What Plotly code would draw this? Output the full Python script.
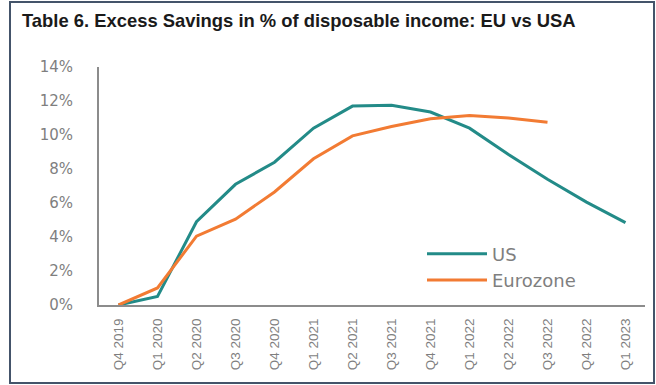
import plotly.graph_objects as go

quarters = ["Q4 2019", "Q1 2020", "Q2 2020", "Q3 2020", "Q4 2020", "Q1 2021", "Q2 2021",
            "Q3 2021", "Q4 2021", "Q1 2022", "Q2 2022", "Q3 2022", "Q4 2022", "Q1 2023"]
us = [0.0, 0.5, 4.9, 7.1, 8.4, 10.4, 11.7, 11.75, 11.35, 10.4, 8.85, 7.4, 6.05, 4.85]
eurozone = [0.0, 1.0, 4.05, 5.05, 6.65, 8.6, 9.95, 10.5, 10.95, 11.15, 11.0, 10.75]
ytick_vals = [0, 2, 4, 6, 8, 10, 12, 14]
ytick_text = ["0%", "2%", "4%", "6%", "8%", "10%", "12%", "14%"]

US_COLOR = "#238b88"
EZ_COLOR = "#f27b33"
GREY = "#7f7f7f"

fig = go.Figure()
fig.add_trace(go.Scatter(x=quarters, y=us, name="US", mode="lines",
                         line=dict(color=US_COLOR, width=3)))
fig.add_trace(go.Scatter(x=quarters[:len(eurozone)], y=eurozone, name="Eurozone", mode="lines",
                         line=dict(color=EZ_COLOR, width=3)))

fig.update_layout(
    width=656, height=385,
    margin=dict(l=99, r=11, t=67, b=80),
    paper_bgcolor="white", plot_bgcolor="white",
    title=dict(text="<b>Table 6. Excess Savings in % of disposable income: EU vs USA</b>",
               x=22/656, xanchor="left", xref="container",
               y=1-21/385, yanchor="middle", yref="container",
               font=dict(family="Liberation Sans", size=18.4, color="#1a1a1a")),
    showlegend=True,
    legend=dict(x=(422-99)/546, y=(305-267)/238, xanchor="left", yanchor="middle",
                bgcolor="rgba(0,0,0,0)", itemwidth=60, tracegroupgap=0,
                font=dict(family="DejaVu Sans", size=18, color=GREY)),
    xaxis=dict(type="category", range=[-0.5, 13.5], showgrid=False, zeroline=False,
               showline=True, linecolor="#8c8c8c", linewidth=2,
               tickangle=-90, ticks="outside", ticklen=6, tickcolor="rgba(0,0,0,0)",
               tickfont=dict(family="Liberation Sans", size=13.5, color=GREY)),
    yaxis=dict(range=[0, 14], tickvals=ytick_vals, ticktext=ytick_text,
               showgrid=False, zeroline=False,
               showline=True, linecolor="#8c8c8c", linewidth=2,
               ticks="outside", ticklen=21, tickcolor="rgba(0,0,0,0)",
               tickfont=dict(family="DejaVu Sans", size=15, color=GREY)),
    shapes=[dict(type="rect", xref="paper", yref="paper",
                 x0=(10-99)/546, x1=(654-99)/546, y0=(305-383)/238, y1=(305-2)/238,
                 line=dict(color="#44546a", width=2), fillcolor="rgba(0,0,0,0)", layer="below")],
)

fig.write_html("out.html", config={"displayModeBar": False},
               post_script="document.body.style.margin='0';")
